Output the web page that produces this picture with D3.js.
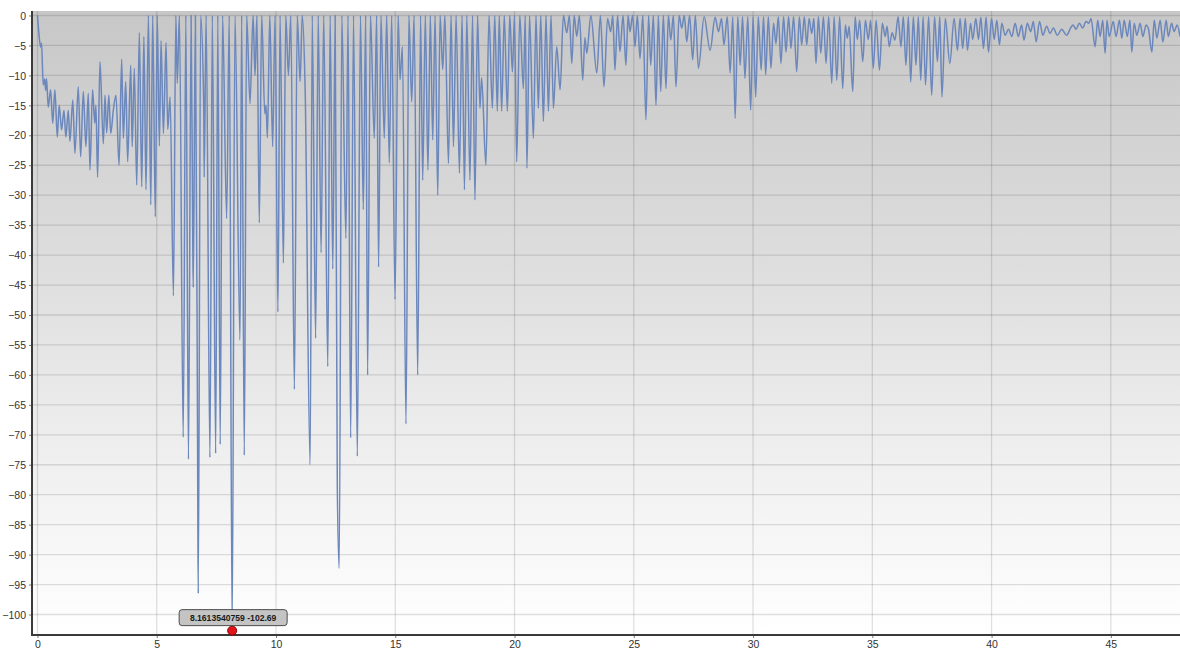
<!DOCTYPE html>
<html><head><meta charset="utf-8">
<script src="https://cdn.jsdelivr.net/npm/d3@7"></script>
<style>html,body{margin:0;padding:0;background:#fff;} svg{display:block;font-family:"Liberation Sans",Arial,sans-serif;}</style>
</head><body><svg id="c" width="1180" height="651"></svg>
<script>
// ---- data ----
const traceStart = [[0,0],[0.06,-3],[0.13,-5.3],[0.17,-4.6],[0.24,-11.6],[0.30,-10.6],[0.34,-12.5],[0.38,-10.5],[0.45,-15.3],[0.55,-12.4],[0.64,-18],[0.73,-12.4],[0.83,-20.3],[0.91,-15],[1.01,-19.1],[1.11,-15.8],[1.19,-20.3],[1.29,-15.8],[1.36,-21],[1.48,-14.1],[1.57,-23],[1.71,-11.9],[1.81,-23.6],[1.92,-12.7],[2.03,-21.9],[2.13,-13],[2.20,-25.8],[2.31,-12.4],[2.40,-18],[2.45,-15],[2.52,-27],[2.62,-7.7],[2.76,-21.4],[2.83,-13.3],[2.90,-19.6],[2.99,-13.3],[3.07,-19.7],[3.18,-15.8],[3.29,-13.3],[3.42,-25],[3.53,-7.3],[3.60,-20.5],[3.70,-11],[3.78,-24.4],[3.91,-8.3],[3.97,-21.9],[4.06,-8.8],[4.16,-28.3],[4.27,-2.9],[4.37,-28.6],[4.46,-3.5],[4.55,-29.1],[4.65,0],[4.75,-31.6],[4.83,0],[4.94,-33.6],[5.02,0]];
const traceDeep = [[5.11,-21.8],[5.18,-4.2],[5.28,-19.7],[5.39,-4.5],[5.46,-19],[5.56,-13.6],[5.70,-46.8],[5.80,0],[5.86,-11.3],[5.95,0],[6.11,-70.4],[6.22,0],[6.33,-74.1],[6.44,0],[6.51,-37.3],[6.53,-45.4],[6.62,0],[6.72,-80],[6.74,-96.5],[6.84,0],[6.97,-15],[6.99,-27],[7.07,0],[7.23,-73.8],[7.33,0],[7.47,-73.1],[7.56,0],[7.66,-71.6],[7.76,0],[7.93,-33.9],[8.04,0],[8.1613540759,-102.69],[8.28,0],[8.49,-54.2],[8.56,0],[8.67,-73.4],[8.77,0],[8.91,-14.7],[9.04,0],[9.12,-10],[9.20,0],[9.30,-34.6],[9.40,0],[9.53,-16.4],[9.58,-15],[9.64,-20.4],[9.74,0],[9.86,-21.9],[9.96,0],[10.08,-49.5],[10.17,0],[10.31,-41.3],[10.41,0],[10.52,-10],[10.62,0],[10.77,-62.4],[10.89,0],[11.01,-11],[11.10,0],[11.22,-12],[11.43,-75],[11.52,0],[11.66,-53.9],[11.77,0],[11.89,-39.6],[12.0,0],[12.17,-58.6],[12.27,0],[12.38,-42.3],[12.48,0],[12.57,-78.7],[12.65,-92.3],[12.76,0],[12.93,-37.2],[13.02,0],[13.13,-70.5],[13.25,0],[13.41,-73.6],[13.54,0],[13.66,-32.4],[13.76,0],[13.84,-60],[13.96,0],[14.12,-20.5],[14.22,0],[14.30,-42],[14.40,0],[14.54,-20.5],[14.64,0],[14.75,-24.6],[14.85,0],[14.99,-47.4],[15.12,0],[15.20,-10.7],[15.30,-5.2],[15.45,-68.2],[15.57,0],[15.69,-14.4],[15.79,0],[15.94,-60],[16.06,0]];
const traceMid = [[16.15,-27.5],[16.26,0],[16.37,-25.8],[16.47,0],[16.57,-20.8],[16.67,0],[16.78,-30],[16.88,0],[16.99,-9],[17.08,0],[17.23,-24.7],[17.34,0],[17.44,-21.9],[17.55,0],[17.69,-26.3],[17.80,0],[17.90,-29.1],[18.0,0],[18.13,-27.5],[18.24,0],[18.34,-30.8],[18.45,0],[18.55,-15.5],[18.62,-10.4],[18.80,-25],[18.93,0],[19.07,-15.5],[19.17,0],[19.28,-16],[19.36,0],[19.46,-16],[19.57,0],[19.70,-16],[19.80,0],[19.91,-9.4],[20.0,0],[20.09,-24.4],[20.22,0],[20.37,-12.2],[20.45,0],[20.52,-25.5],[20.63,0],[20.79,-20.5],[20.90,0],[21.0,-15.5],[21.10,0],[21.21,-17.7],[21.32,0],[21.42,-16],[21.53,0],[21.63,-15.5],[21.77,-5.2],[21.91,-12.4],[22.05,0],[22.19,-2.9],[22.30,0],[22.40,-8],[22.50,0],[22.61,-3.5],[22.72,0],[22.86,-10.8],[22.95,-3.7],[23.03,-6.3],[23.20,0],[23.45,-9.6],[23.60,0],[23.75,-11.9],[23.90,-0.5],[24.03,-2.7],[24.12,0],[24.21,-9.1],[24.32,0],[24.42,-6.0],[24.55,0],[24.67,-8.3],[24.76,0],[24.84,-2.7],[24.95,0],[25.05,-5.2],[25.15,0],[25.26,-7.2],[25.38,0],[25.51,-17.4],[25.62,0],[25.71,-8.3],[25.82,0],[25.93,-15],[26.03,0],[26.13,-12.7],[26.24,0],[26.35,-12.2],[26.45,0],[26.55,-4.1],[26.66,0],[26.77,-11.9],[26.90,0],[27.01,-2.1],[27.12,0],[27.22,-4.4],[27.34,0],[27.47,-7.4],[27.58,0],[27.71,-8.8]];
const traceLate = [[27.95,-0.2],[28.20,-5.8],[28.41,-0.3],[28.55,-2.7],[28.68,-0.5],[28.78,-4.9],[28.92,-0.2],[29.04,-9.6],[29.15,-0.2],[29.25,-17.2],[29.36,-0.2],[29.46,-8.3],[29.56,-0.2],[29.66,-10.5],[29.78,-0.2],[29.90,-15.8],[30.0,-0.2],[30.11,-13.6],[30.22,-0.2],[30.34,-9.1],[30.44,-0.2],[30.53,-9.9],[30.64,-0.2],[30.75,-8.8],[30.86,-1.3],[30.96,-4.7],[31.06,-0.2],[31.17,-8.0],[31.28,-0.2],[31.38,-6.1],[31.49,-0.2],[31.59,-5.5],[31.70,-0.2],[31.83,-9.4],[31.94,-0.2],[32.04,-4.9],[32.15,-0.2],[32.25,-4.9],[32.35,-0.5],[32.46,-3.0],[32.55,-0.5],[32.64,-8.0],[32.74,-0.2],[32.84,-6.3],[32.95,-0.2],[33.06,-8.0],[33.17,-0.2],[33.30,-11.3],[33.40,-0.2],[33.51,-10.8],[33.63,-0.2],[33.76,-12.2],[33.87,-1.6],[33.95,-3.8],[34.03,-1.8],[34.18,-12.7],[34.28,-0.2],[34.37,-4.0],[34.47,-0.8],[34.60,-7.7],[34.71,-0.8],[34.83,-4.0],[34.93,-0.8],[35.04,-8.8],[35.16,-0.8],[35.30,-9.1],[35.42,-1.3],[35.54,-3.5],[35.62,-1.8],[35.71,-5.2],[35.83,-2.9],[35.95,-4.1],[36.08,-0.2],[36.20,-5.2],[36.30,-0.2],[36.41,-8.3],[36.51,-0.2],[36.61,-11.1],[36.72,-0.2],[36.83,-8.3],[36.93,-0.2],[37.03,-10.8],[37.13,-0.2],[37.23,-11.6],[37.36,-0.2],[37.49,-13.3],[37.61,-0.2],[37.73,-7.7],[37.83,-0.2],[37.92,-13.6],[38.06,-0.5],[38.25,-8.0]];
const traceTail = [[38.43,-0.5],[38.57,-5.8],[38.68,-0.5],[38.79,-5.5],[38.90,-0.5],[38.99,-5.8],[39.12,-1.3],[39.21,-4.0],[39.34,-0.5],[39.45,-4.0],[39.55,-0.3],[39.66,-5.5],[39.77,-0.3],[39.87,-6.1],[40.0,-0.5],[40.11,-4.0],[40.22,-0.8],[40.33,-4.9],[40.43,-1.3],[40.57,-3.3],[40.71,-2.3],[40.85,-3.5],[40.99,-1.3],[41.12,-3.5],[41.26,-1.6],[41.36,-4.1],[41.50,-1.3],[41.64,-2.7],[41.75,-1.0],[41.87,-4.4],[42.01,-1.0],[42.15,-3.3],[42.31,-1.8],[42.45,-3.0],[42.59,-2.1],[42.76,-3.3],[42.94,-2.3],[43.15,-3.3],[43.31,-2.1],[43.42,-1.6],[43.54,-2.3],[43.68,-1.3],[43.82,-2.1],[43.96,-1.0],[44.08,-1.3],[44.17,-0.5],[44.34,-5.2],[44.45,-0.8],[44.55,-3.5],[44.66,-0.8],[44.76,-6.3],[44.84,-0.8],[44.93,-3.5],[45.10,-1.0],[45.22,-3.5],[45.36,-0.8],[45.46,-3.8],[45.56,-0.8],[45.69,-3.5],[45.80,-0.8],[45.88,-6.1],[45.98,-1.3],[46.09,-3.3],[46.23,-1.3],[46.34,-3.5],[46.48,-1.6],[46.58,-2.3],[46.72,-6.1],[46.82,-0.8],[46.93,-3.8],[47.07,-0.8],[47.18,-4.4],[47.32,-0.8],[47.41,-3.5],[47.55,-1.3],[47.65,-2.7],[47.78,-1.6],[47.90,-3.5]];
const xTickValues = [0,5,10,15,20,25,30,35,40,45];
const yTickValues = [0,-5,-10,-15,-20,-25,-30,-35,-40,-45,-50,-55,-60,-65,-70,-75,-80,-85,-90,-95,-100];
const markerPoint = [8.1613540759, -102.69];
const markerLabel = "8.1613540759 -102.69";
const xDomain = [-0.23, 47.9];
const yDomain = [-103.42, 0.75];

// ---- drawing ----
const trace = [].concat(traceStart, traceDeep, traceMid, traceLate, traceTail);
const svg = d3.select("#c");
const L = 32, R = 1180, T = 11, B = 635;
const x = d3.scaleLinear().domain(xDomain).range([L, R]);
const y = d3.scaleLinear().domain(yDomain).range([B, T]);

const defs = svg.append("defs");
const g = defs.append("linearGradient").attr("id","bg").attr("x1",0).attr("y1",0).attr("x2",0).attr("y2",1);
g.append("stop").attr("offset","0%").attr("stop-color","#c7c7c7");
g.append("stop").attr("offset","100%").attr("stop-color","#ffffff");
defs.append("clipPath").attr("id","clip").append("rect").attr("x",L).attr("y",T).attr("width",R-L).attr("height",B-T);

svg.append("rect").attr("x",L).attr("y",T).attr("width",R-L).attr("height",B-T).attr("fill","url(#bg)");

// grid
const grid = svg.append("g").attr("stroke","rgba(0,0,0,0.12)").attr("stroke-width",1.3);
grid.selectAll("line.h").data(yTickValues).join("line").attr("class","h")
  .attr("x1",L).attr("x2",R).attr("y1",d=>y(d)).attr("y2",d=>y(d));
grid.selectAll("line.v").data(xTickValues).join("line").attr("class","v")
  .attr("y1",T).attr("y2",B).attr("x1",d=>x(d)).attr("x2",d=>x(d));

// line
svg.append("path").datum(trace)
  .attr("clip-path","url(#clip)")
  .attr("fill","none").attr("stroke","#6b87bb").attr("stroke-width",1.5).attr("stroke-linejoin","round")
  .attr("d", d3.line().curve(d3.curveMonotoneX).x(d=>x(d[0])).y(d=>y(d[1])));

// ticks
const xMinor = d3.range(0, 48, 1.25);
const yMinor = d3.range(0, -103.5, -1.25);
const xAxis = d3.axisBottom(x).tickValues(xTickValues).tickSize(3).tickPadding(3).tickFormat(d3.format("d"));
const yAxis = d3.axisLeft(y).tickValues(yTickValues).tickSize(3).tickPadding(3).tickFormat(d3.format("d"));

const gx = svg.append("g").attr("transform",`translate(0,${B})`);
gx.call(d3.axisBottom(x).tickValues(xMinor).tickSize(3).tickFormat(""));
gx.call(xAxis);
const gy = svg.append("g").attr("transform",`translate(${L},0)`);
gy.call(d3.axisLeft(y).tickValues(yMinor).tickSize(3).tickFormat(""));
gy.call(yAxis);

[gx, gy].forEach(a => {
  a.selectAll("path.domain").remove();
  a.selectAll(".tick line").attr("stroke","#777");
  a.selectAll("text").attr("fill","#333").style("font-size","10.5px").style("font-family","'Liberation Sans',Arial,sans-serif");
});
gy.selectAll("text").attr("dy","0.35em");
gx.selectAll("text").attr("dy","0.68em");

svg.append("line").attr("x1",L).attr("x2",L).attr("y1",T).attr("y2",B+1).attr("stroke","#3a3a3a").attr("stroke-width",2);
svg.append("line").attr("x1",L-1).attr("x2",R).attr("y1",B).attr("y2",B).attr("stroke","#3a3a3a").attr("stroke-width",2);

// marker + label
const mx = x(markerPoint[0]), my = y(markerPoint[1]);
svg.append("circle").attr("cx",mx).attr("cy",my).attr("r",4.5).attr("fill","#e3131b").attr("stroke","#8a0000").attr("stroke-width",1);
const tip = svg.append("g");
const tw = 108, th = 16;
tip.append("rect").attr("x",mx-tw/2+1).attr("y",my-21).attr("width",tw).attr("height",th).attr("rx",3)
  .attr("fill","#c4c4c4").attr("stroke","#4d4d4d").attr("stroke-width",1);
tip.append("text").attr("x",mx+1).attr("y",my-10).attr("text-anchor","middle")
  .style("font-size","8.6px").style("font-weight","bold").attr("fill","#1a1a1a").text(markerLabel);
</script></body></html>
